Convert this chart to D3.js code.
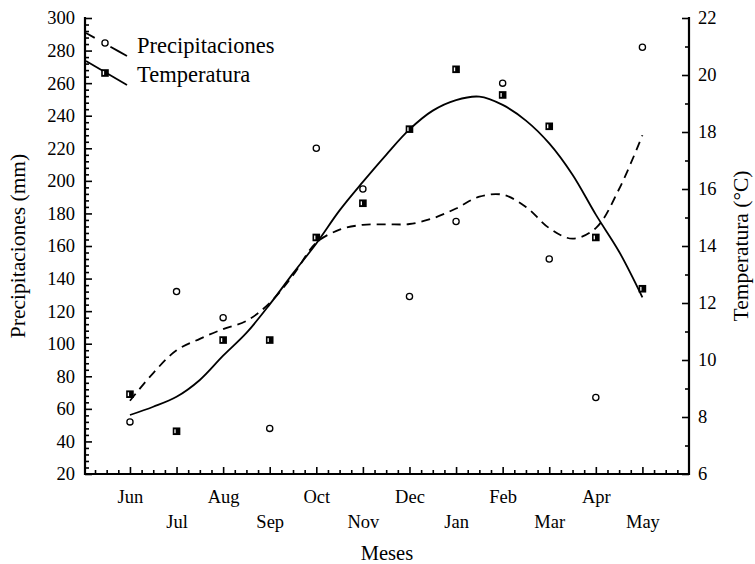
<!DOCTYPE html>
<html>
<head>
<meta charset="utf-8">
<script src="https://cdn.jsdelivr.net/npm/d3@7"></script>
<style>
body { margin: 0; background: #fff; }
</style>
</head>
<body>
<div id="grafica"></div>
<script>
// datos
var meses = ["Jun", "Jul", "Aug", "Sep", "Oct", "Nov", "Dec", "Jan", "Feb", "Mar", "Apr", "May"];
var precipitaciones = [52, 132, 116, 48, 220, 195, 129, 175, 260, 152, 67, 282];
var temperatura = [8.8, 7.5, 10.7, 10.7, 14.3, 15.5, 18.1, 20.2, 19.3, 18.2, 14.3, 12.5];

// curvas ajustadas (posicion en meses, valor)
var ajusteX = [0, 0.5, 1, 1.5, 2, 2.5, 3, 3.5, 4, 4.5, 5, 5.5, 6, 6.5, 7, 7.5, 8, 8.5, 9, 9.5, 10, 10.5, 11];
var ajustePrec = [65, 82, 96, 103, 109, 114, 125, 142, 162, 170, 173, 173.3, 173.5, 177, 183, 190.3, 191.5, 184, 171, 164.5, 171, 195, 228];
var ajusteTemp = [8.07, 8.36, 8.71, 9.3, 10.15, 10.95, 11.95, 13.04, 14.09, 15.25, 16.25, 17.2, 18.09, 18.75, 19.12, 19.24, 18.95, 18.4, 17.6, 16.5, 15.1, 13.8, 12.2];

var ticksPrec = d3.range(20, 301, 20);
var ticksTemp = d3.range(6, 23, 2);

// dimensiones
var W = 755, H = 564;
var mL = 85, mR = 689, mT = 18, mB = 474;
var fuente = "Liberation Serif, Times New Roman, serif";

var svg = d3.select("#grafica")
.append("svg")
.attr("width", W)
.attr("height", H)
.attr("font-family", fuente);

// escalas
var x = d3.scaleLinear().domain([-0.965, 12]).range([mL, mR]);
var y = d3.scaleLinear().domain([20, 300]).range([mB, mT]);
var y2 = d3.scaleLinear().domain([6, 22]).range([mB, mT]);

// eje izquierdo
var gL = svg.append("g").attr("transform", "translate(" + mL + ",0)");
gL.call(d3.axisRight(y).tickValues(d3.range(24, 300, 4).filter(function(d) { return (d - 20) % 20 != 0; })).tickSize(4).tickFormat(""));
var gL2 = svg.append("g").attr("transform", "translate(" + mL + ",0)");
gL2.call(d3.axisLeft(y).tickValues(ticksPrec).tickSize(0).tickPadding(10));
gL2.selectAll(".tick").append("line").attr("x2", 7);

// eje derecho
var gR = svg.append("g").attr("transform", "translate(" + mR + ",0)");
gR.call(d3.axisLeft(y2).tickValues(d3.range(7, 22, 2)).tickSize(4).tickFormat(""));
var gR2 = svg.append("g").attr("transform", "translate(" + mR + ",0)");
gR2.call(d3.axisRight(y2).tickValues(ticksTemp).tickSize(0).tickPadding(9));
gR2.selectAll(".tick").append("line").attr("x2", -7);

// eje inferior
var gB = svg.append("g").attr("transform", "translate(0," + mB + ")");
gB.call(d3.axisTop(x).tickValues(d3.range(-0.75, 12, 0.25).filter(function(d) { return d % 1 != 0; })).tickSize(4).tickFormat(""));
var gB2 = svg.append("g").attr("transform", "translate(0," + mB + ")");
gB2.call(d3.axisBottom(x).tickValues(d3.range(0, 12)).tickSize(0).tickPadding(0)
  .tickFormat(function(i) { return meses[i]; }));
gB2.selectAll(".tick").append("line").attr("y2", -7);
gB2.selectAll(".tick text")
.attr("dy", null)
.attr("y", function(i) { return i % 2 == 0 ? 29 : 54; });

svg.selectAll("g").attr("font-family", fuente).attr("font-size", 18.5);
svg.selectAll(".tick line").attr("stroke", "#000").attr("stroke-width", 1.6);
svg.selectAll(".tick text").attr("fill", "#000");
svg.selectAll(".domain").remove();

// lineas de ejes
svg.append("path")
.attr("d", "M" + mL + "," + (mT - 1) + "V" + mB + "H" + mR + "V" + (mT - 1))
.attr("fill", "none").attr("stroke", "#000").attr("stroke-width", 2.2);

// titulos
svg.append("text")
.attr("transform", "translate(25," + ((mT + mB) / 2) + ")rotate(-90)")
.attr("text-anchor", "middle")
.attr("font-size", 21.5).attr("fill", "#000")
.text("Precipitaciones (mm)");
svg.append("text")
.attr("transform", "translate(748," + ((mT + mB) / 2) + ")rotate(-90)")
.attr("text-anchor", "middle")
.attr("font-size", 21.5).attr("fill", "#000")
.text("Temperatura (°C)");
svg.append("text")
.attr("x", (mL + mR) / 2).attr("y", 560)
.attr("text-anchor", "middle")
.attr("font-size", 20.5).attr("fill", "#000")
.text("Meses");

// curvas
var linea = function(esc, vals) {
  return d3.line()
  .x(function(d, i) { return x(ajusteX[i]); })
  .y(function(d) { return esc(d); })
  .curve(d3.curveCatmullRom)(vals);
};
svg.append("path")
.attr("d", linea(y, ajustePrec))
.attr("fill", "none").attr("stroke", "#000").attr("stroke-width", 1.8)
.attr("stroke-dasharray", "9,6");
svg.append("path")
.attr("d", linea(y2, ajusteTemp))
.attr("fill", "none").attr("stroke", "#000").attr("stroke-width", 1.8);

// marcadores
function cuadro(g, cx, cy) {
  g.append("rect").attr("x", cx - 3.8).attr("y", cy - 3.8).attr("width", 7.6).attr("height", 7.6).attr("fill", "#000");
  g.append("rect").attr("x", cx - 2.2).attr("y", cy - 1.9).attr("width", 1.3).attr("height", 3.8).attr("fill", "#fff");
}
function circulo(g, cx, cy) {
  g.append("circle").attr("cx", cx).attr("cy", cy).attr("r", 3.1)
  .attr("fill", "#fff").attr("stroke", "#000").attr("stroke-width", 1.3);
}
var gm = svg.append("g");
precipitaciones.forEach(function(v, i) { circulo(gm, x(i), y(v)); });
temperatura.forEach(function(v, i) { cuadro(gm, x(i), y2(v)); });

// leyenda
var lg = svg.append("g");
lg.append("path").attr("d", "M86,33L127,56").attr("stroke", "#000").attr("stroke-width", 1.8)
.attr("stroke-dasharray", "10,8,0,10,9,0");
circulo(lg, 105, 43);
lg.append("path").attr("d", "M86,61L127,85").attr("stroke", "#000").attr("stroke-width", 1.8);
cuadro(lg, 105, 73);
lg.append("text").attr("x", 137).attr("y", 53).attr("font-size", 22.5).attr("fill", "#000").text("Precipitaciones");
lg.append("text").attr("x", 137).attr("y", 82).attr("font-size", 22.5).attr("fill", "#000").text("Temperatura");
</script>
</body>
</html>
